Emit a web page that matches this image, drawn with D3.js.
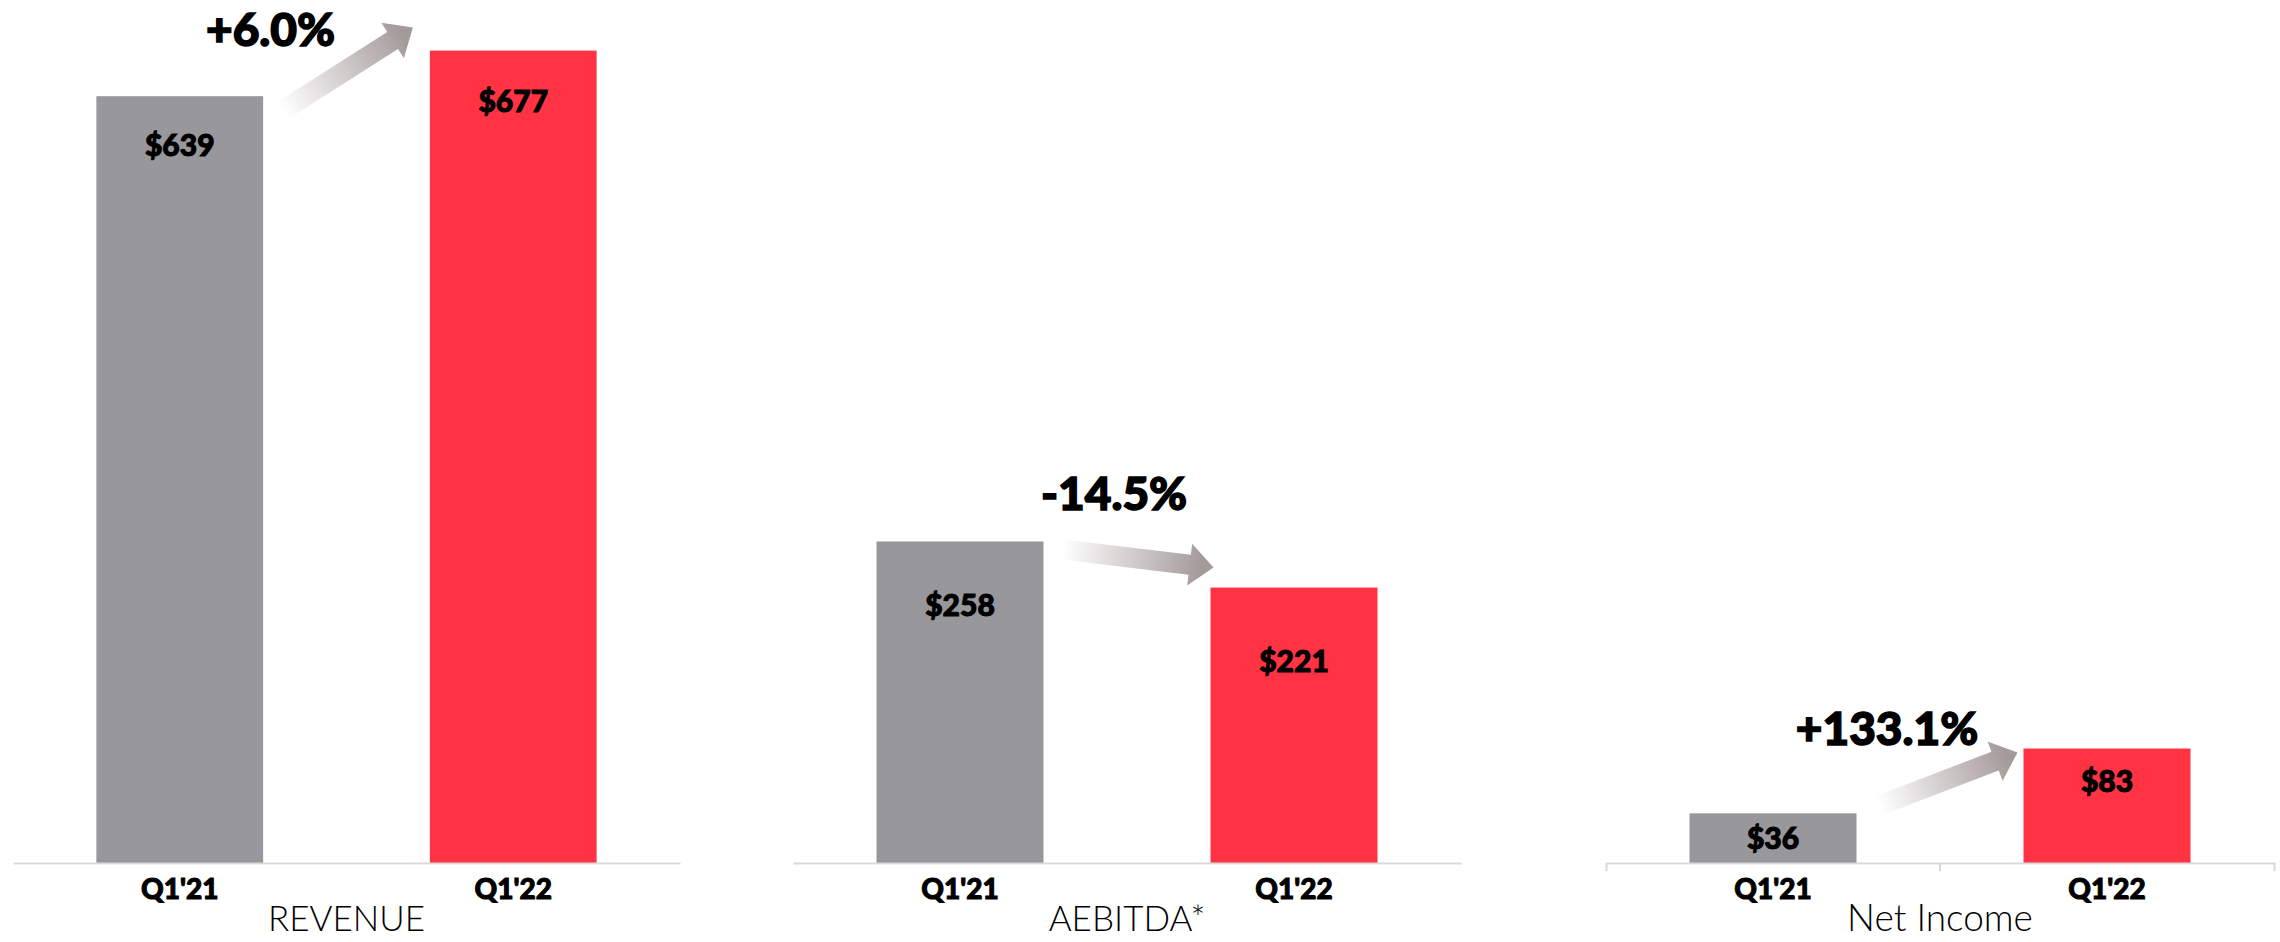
<!DOCTYPE html>
<html lang="en">
<head>
    <meta charset="UTF-8">
    <title>Q1 results</title>
    <script src="https://cdn.jsdelivr.net/npm/d3@7"></script>
    <style>
        body{
            margin:0px;
            background:#fff;
        }
        svg{
            display:block;
            font-family: Lato, "Noto Sans", sans-serif;
        }
        .heavy{
            font-weight: 900;
            stroke: #000;
            stroke-width: 1px;
            paint-order: stroke;
        }
    </style>
</head>
<body>
    <svg id="chart" width="2280" height="942"></svg>
    <script>
        // data
        var panels = ["REVENUE", "AEBITDA*", "Net Income"]
        var quarters = ["Q1'21", "Q1'22"]
        var revenue = [639, 677]
        var aebitda = [258, 221]
        var netIncome = [36, 83]
        var changes = ["+6.0%", "-14.5%", "+133.1%"]
        var series = [revenue, aebitda, netIncome]

        // layout of each small chart (each one has its own scale, like the excel originals)
        var panelX = [[13, 680], [793, 1461], [1606, 2274]]
        var yMax = [700, 674, 609]
        var baseY = 863, topY = 23
        var labelDrop = [[49, 51], [64, 74], [25, 33]]
        // arrow tail offset from gray bar top-right, tip offset from red bar top-left
        var arrowOff = [[[20, 14], [-17, -23]], [[19, 8], [3, -20]], [[23, -8], [-6, 4]]]
        // change note: dx from panel centre, baseline relative to higher bar top
        var noteOff = [[-76, -5], [-13, -31], [-53, -4]]
        var colors = ["#98979c", "#ff3344"]

        var svg = d3.select("#chart")
        var defs = svg.append("defs")

        panels.forEach(function(name, i){
            var vals = series[i]
            var g = svg.append("g")

            var x = d3.scaleBand()
                .domain(quarters)
                .range(panelX[i])
                .paddingInner(0.5)
                .paddingOuter(0.25)
            var y = d3.scaleLinear()
                .domain([0, yMax[i]])
                .range([baseY, topY])

            g.selectAll("rect")
                .data(vals)
                .enter().append("rect")
                .attr("x", function(d, j){ return x(quarters[j]) })
                .attr("y", function(d){ return y(d) })
                .attr("width", x.bandwidth())
                .attr("height", function(d){ return baseY - y(d) })
                .attr("fill", function(d, j){ return colors[j] })

            g.selectAll(".val")
                .data(vals)
                .enter().append("text")
                .attr("class", "val heavy")
                .attr("x", function(d, j){ return x(quarters[j]) + x.bandwidth() / 2 })
                .attr("y", function(d, j){ return y(d) + labelDrop[i][j] })
                .attr("dy", "0.36em")
                .attr("text-anchor", "middle")
                .style("font-size", "30px")
                .text(function(d){ return "$" + d })

            // axis: plain line, net income one gets excel style tick marks
            var axis = d3.axisBottom(x).tickSizeInner(0).tickPadding(16)
                .tickSizeOuter(i == 2 ? 8 : 0)
            var ax = g.append("g")
                .attr("transform", "translate(0," + baseY + ")")
                .call(axis)
            ax.select(".domain").attr("stroke", "#d9d9d9").attr("stroke-width", 2)
            ax.selectAll("text")
                .attr("class", "heavy")
                .attr("fill", "#000")
                .style("font-size", "28px")
                .style("font-family", "Lato, sans-serif")
            if (i == 2) {
                var mid = x(quarters[1]) - (x.step() - x.bandwidth()) / 2
                ax.append("line")
                    .attr("x1", mid).attr("x2", mid)
                    .attr("y1", 0).attr("y2", 8)
                    .attr("stroke", "#d9d9d9").attr("stroke-width", 2)
            }

            g.append("text")
                .attr("x", (panelX[i][0] + panelX[i][1]) / 2)
                .attr("y", 931)
                .attr("text-anchor", "middle")
                .style("font-size", i == 2 ? "37px" : "35px")
                .style("font-weight", 300)
                .text(name)

            // gradient arrow from the old bar to the new one
            var tail = [x(quarters[0]) + x.bandwidth() + arrowOff[i][0][0], y(vals[0]) + arrowOff[i][0][1]]
            var tip = [x(quarters[1]) + arrowOff[i][1][0], y(vals[1]) + arrowOff[i][1][1]]
            var dx = tip[0] - tail[0], dy = tip[1] - tail[1]
            var len = Math.sqrt(dx * dx + dy * dy)
            var ang = Math.atan2(dy, dx) * 180 / Math.PI
            var sw = 10, hw = 21, hl = 24

            var grad = defs.append("linearGradient")
                .attr("id", "arrowGrad" + i)
                .attr("gradientUnits", "userSpaceOnUse")
                .attr("x1", 0).attr("y1", 0).attr("x2", len).attr("y2", 0)
            grad.append("stop").attr("offset", 0).attr("stop-color", "#ffffff")
            grad.append("stop").attr("offset", 0.92).attr("stop-color", "#a59a9a")

            var p = d3.path()
            p.moveTo(0, -sw)
            p.lineTo(len - hl, -sw)
            p.lineTo(len - hl, -hw)
            p.lineTo(len, 0)
            p.lineTo(len - hl, hw)
            p.lineTo(len - hl, sw)
            p.lineTo(0, sw)
            p.closePath()

            g.append("path")
                .attr("d", p.toString())
                .attr("fill", "url(#arrowGrad" + i + ")")
                .attr("transform", "translate(" + tail[0] + "," + tail[1] + ") rotate(" + ang + ")")

            var topBar = Math.min(y(vals[0]), y(vals[1]))
            g.append("text")
                .attr("class", "heavy")
                .attr("x", (panelX[i][0] + panelX[i][1]) / 2 + noteOff[i][0])
                .attr("y", topBar + noteOff[i][1])
                .attr("text-anchor", "middle")
                .style("font-size", "46px")
                .style("stroke-width", "1.5px")
                .text(changes[i])
        })
    </script>
</body>
</html>
